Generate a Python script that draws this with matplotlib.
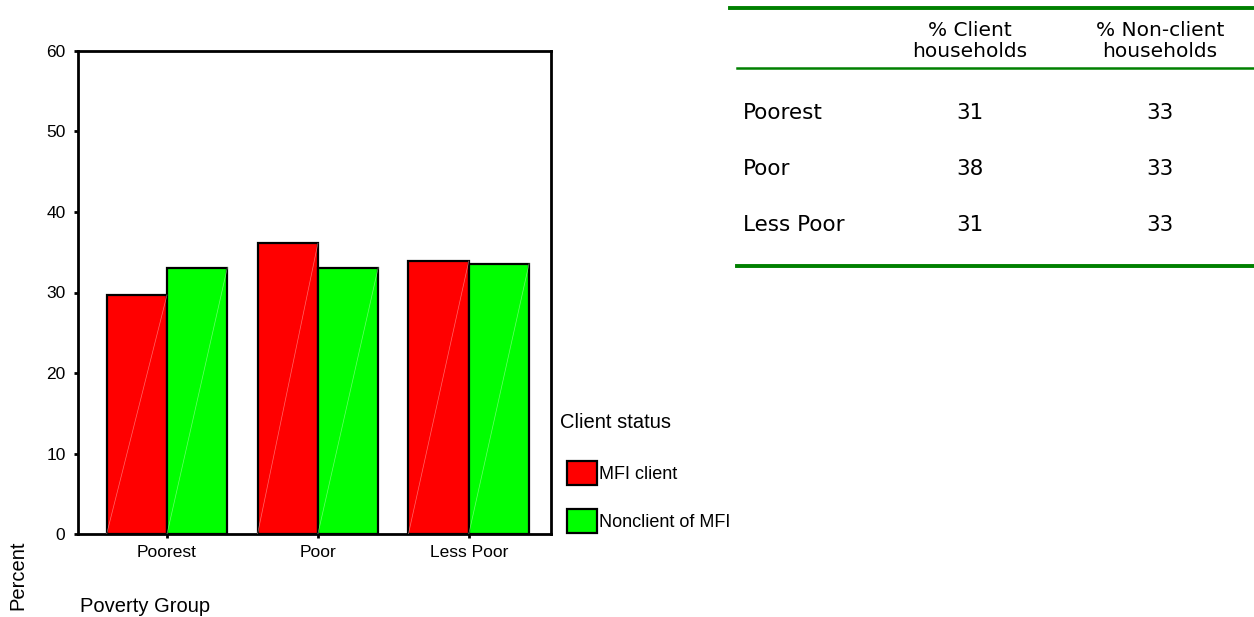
import matplotlib
matplotlib.use("Agg")
import matplotlib.pyplot as plt
import numpy as np
from matplotlib.lines import Line2D

# bar chart data (percent)
groups = ["Poorest", "Poor", "Less Poor"]
mfi_client = [29.7, 36.1, 33.9]
nonclient = [33.1, 33.1, 33.6]
series_names = ["MFI client", "Nonclient of MFI"]
yticks = [0, 10, 20, 30, 40, 50, 60]

# table data
table_cols = ["% Client\nhouseholds", "% Non-client\nhouseholds"]
table_rows = ["Poorest", "Poor", "Less Poor"]
table_client = [31, 38, 31]
table_nonclient = [33, 33, 33]

W, H = 1254, 617
fig = plt.figure(figsize=(W / 100, H / 100), dpi=100)
plt.rcParams['font.family'] = ['Liberation Sans', 'DejaVu Sans']

def fx(px):
    return px / W

def fy(py):
    return 1 - py / H

ax_l, ax_r, ax_b, ax_t = 78, 551, 534, 51
ax = fig.add_axes([fx(ax_l), fy(ax_b), fx(ax_r) - fx(ax_l), fy(ax_t) - fy(ax_b)])
x = np.arange(len(groups))
bw = 0.40
red = "#ff0000"
green = "#00ff00"
b1 = ax.bar(x - bw / 2, mfi_client, bw, color=red, edgecolor="black", linewidth=1.6, label=series_names[0])
b2 = ax.bar(x + bw / 2, nonclient, bw, color=green, edgecolor="black", linewidth=1.6, label=series_names[1])

# faint diagonal highlight in each bar
for bars, col in ((b1, "#ffb0b0"), (b2, "#b0ffb0")):
    for r in bars:
        x0, w, h = r.get_x(), r.get_width(), r.get_height()
        ax.plot([x0, x0 + w], [0, h], color=col, lw=0.5, alpha=0.6, zorder=3)

ax.set_xlim(-0.59, 2.545)
ax.set_ylim(0, 60)
ax.set_yticks(yticks)
ax.set_xticks(x)
ax.set_xticklabels(groups, fontsize=12.5)
ax.tick_params(axis="y", labelsize=12.5, length=3, width=2, direction="out", pad=6)
ax.tick_params(axis="x", length=3, width=2, direction="out", pad=5)
for s in ax.spines.values():
    s.set_linewidth(2)

fig.text(fx(18), fy(575), "Percent", rotation=90, fontsize=14.5, ha="center", va="center")
fig.text(fx(80), fy(607), "Poverty Group", fontsize=14.5, ha="left", va="center")

# legend
fig.text(fx(560), fy(422), "Client status", fontsize=14.5, ha="left", va="center")
ax_w = ax_r - ax_l
ax_h = ax_b - ax_t
leg = ax.legend(loc="upper left", bbox_to_anchor=((567 - ax_l) / ax_w, (ax_b - 461) / ax_h),
                frameon=False, fontsize=13, handlelength=1.67, handleheight=1.7,
                handletextpad=0.1, labelspacing=1.3, borderaxespad=0, borderpad=0)
for p in leg.get_patches():
    p.set_linewidth(1.6)

# table on the right
green_line = "#008000"
fig.add_artist(Line2D([fx(730), 1], [fy(8), fy(8)], color=green_line, lw=2.8))
fig.add_artist(Line2D([fx(737), 1], [fy(68), fy(68)], color=green_line, lw=1.8))
fig.add_artist(Line2D([fx(737), 1], [fy(266), fy(266)], color=green_line, lw=2.8))

col_x = [fx(970), fx(1160)]
tfont = ['DejaVu Sans']
for cx, label in zip(col_x, table_cols):
    fig.text(cx, fy(41), label, fontsize=14.5, ha="center", va="center",
             family=tfont, linespacing=1.15)
row_y = [113, 169, 225]
for ry, name, a, b in zip(row_y, table_rows, table_client, table_nonclient):
    fig.text(fx(743), fy(ry), name, fontsize=15.5, ha="left", va="center", family=tfont)
    fig.text(col_x[0], fy(ry), str(a), fontsize=15.5, ha="center", va="center", family=tfont)
    fig.text(col_x[1], fy(ry), str(b), fontsize=15.5, ha="center", va="center", family=tfont)

fig.savefig("out.png", dpi=100)
